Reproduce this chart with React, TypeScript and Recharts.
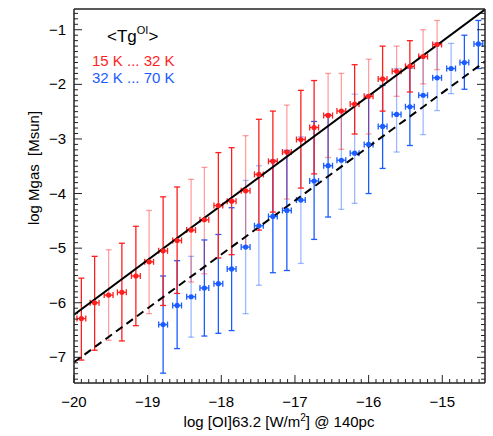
import React from "react";
import {
  ComposedChart,
  Scatter,
  ErrorBar,
  XAxis,
  YAxis,
  ReferenceLine,
} from "recharts";

// red bin: <Tg OI> 15 K ... 32 K
const redX = [
  -19.9, -19.72, -19.53, -19.35, -19.16, -18.98, -18.79, -18.6, -18.41, -18.23,
  -18.04, -17.86, -17.67, -17.49, -17.3, -17.11, -16.92, -16.74, -16.55, -16.37,
  -16.19, -16.0, -15.81, -15.62, -15.44, -15.26, -15.07,
];
const redY = [
  -6.29, -6.0, -5.86, -5.81, -5.51, -5.25, -5.05, -4.86, -4.67, -4.48, -4.22,
  -4.14, -3.95, -3.65, -3.41, -3.24, -3.01, -2.79, -2.57, -2.49, -2.36, -2.22,
  -1.9, -1.76, -1.67, -1.49, -1.27,
];
const redHi = [
  -5.55, -5.15, -5.03, -4.91, -4.6, -4.31, -4.06, -3.88, -3.74, -3.52, -3.25,
  -3.16, -2.94, -2.64, -2.49, -2.38, -2.11, -1.93, -1.8, -1.8, -1.64, -1.54,
  -1.3, -1.3, -1.2, -1.0, -0.83,
];
const redLo = [
  -7.05, -6.87, -6.69, -6.7, -6.42, -6.2, -6.05, -5.83, -5.62, -5.47, -5.18,
  -5.12, -4.96, -4.67, -4.34, -4.1, -3.9, -3.64, -3.34, -3.19, -2.91, -2.91,
  -2.49, -2.22, -2.14, -1.99, -1.73,
];

// blue bin: 32 K ... 70 K
const blueX = [
  -18.79, -18.6, -18.41, -18.23, -18.04, -17.86, -17.67, -17.49, -17.3, -17.11,
  -16.92, -16.74, -16.55, -16.37, -16.19, -16.0, -15.81, -15.62, -15.44, -15.26,
  -15.07, -14.88, -14.7, -14.51,
];
const blueY = [
  -6.4, -6.05, -5.89, -5.73, -5.65, -5.38, -4.98, -4.59, -4.42, -4.31, -4.12,
  -3.77, -3.49, -3.39, -3.26, -3.1, -2.77, -2.55, -2.41, -2.2, -1.88, -1.71,
  -1.6, -1.26,
];
const blueHi = [
  -5.51, -5.23, -5.15, -4.85, -4.75, -4.26, -3.76, -3.49, -3.39, -3.21, -2.96,
  -2.68, -2.55, -2.49, -2.18, -2.2, -2.02, -1.71, -1.7, -1.48, -1.24, -1.25,
  -1.1, -0.83,
];
const blueLo = [
  -7.29, -6.84, -6.63, -6.61, -6.56, -6.51, -6.2, -5.68, -5.45, -5.41, -5.28,
  -4.84, -4.43, -4.29, -4.18, -4.0, -3.54, -3.24, -3.12, -2.92, -2.48, -2.17,
  -2.09, -1.71,
];

// half width of the horizontal bars (bin width)
const xErr = 0.06;

// fits: log M = slope * log F + intercept
const solidFit = { slope: 1.002, intercept: 13.82 };
const dashedFit = { slope: 0.987, intercept: 12.65 };

// which vertical bars are drawn lighter
const redFaint = [2, 5, 8, 9, 12, 15, 18, 19, 21, 23, 25, 26];
const blueFaint = [2, 6, 7, 10, 13, 14, 17, 19, 20, 21];

const X_MIN = -20;
const X_MAX = -14.42;
const Y_MIN = -7.47;
const Y_MAX = -0.62;

const RED = "#ff1e1e";
const RED_FAINT = "rgba(255,30,30,0.42)";
const BLUE = "#1a5cff";
const BLUE_FAINT = "rgba(26,92,255,0.42)";
const FONT = "'Liberation Sans', Arial, sans-serif";

const buildRows = (xs: number[], ys: number[], hi: number[], lo: number[]) =>
  xs.map((x, i) => ({
    x,
    y: ys[i],
    ey: [ys[i] - lo[i], hi[i] - ys[i]],
    ex: xErr,
  }));

const redRows = buildRows(redX, redY, redHi, redLo);
const blueRows = buildRows(blueX, blueY, blueHi, blueLo);

const split = (rows: ReturnType<typeof buildRows>, faint: number[]) => ({
  dark: rows.filter((_, i) => !faint.includes(i)),
  light: rows.filter((_, i) => faint.includes(i)),
});
const redSets = split(redRows, redFaint);
const blueSets = split(blueRows, blueFaint);

const range = (a: number, b: number) => {
  const out: number[] = [];
  for (let k = Math.round(a * 10); k <= Math.round(b * 10); k++) out.push(k / 10);
  return out;
};
const xTicks = range(-20, -14.5);
const yTicks = range(-7.4, -0.7);

const isMajor = (v: number) => Math.abs(v - Math.round(v)) < 1e-6;
const fmt = (v: number) => (v < 0 ? `\u2212${Math.abs(Math.round(v))}` : `${Math.round(v)}`);

const BottomTick = (props: any) => {
  const { x, y, payload } = props;
  const major = isMajor(payload.value);
  return (
    <g>
      <line x1={x} y1={y} x2={x} y2={y - (major ? 8 : 4)} stroke="#222" />
      {major && (
        <text x={x} y={y + 24} textAnchor="middle" fontSize={15} fontFamily={FONT} fill="#000">
          {fmt(payload.value)}
        </text>
      )}
    </g>
  );
};

const TopTick = (props: any) => {
  const { x, y, payload } = props;
  const major = isMajor(payload.value);
  return <line x1={x} y1={y} x2={x} y2={y + (major ? 8 : 4)} stroke="#222" />;
};

const LeftTick = (props: any) => {
  const { x, y, payload } = props;
  const major = isMajor(payload.value);
  return (
    <g>
      <line x1={x} y1={y} x2={x + (major ? 8 : 4)} y2={y} stroke="#222" />
      {major && (
        <text x={x - 8} y={y + 5} textAnchor="end" fontSize={15} fontFamily={FONT} fill="#000">
          {fmt(payload.value)}
        </text>
      )}
    </g>
  );
};

const RightTick = (props: any) => {
  const { x, y, payload } = props;
  const major = isMajor(payload.value);
  return <line x1={x} y1={y} x2={x - (major ? 8 : 4)} y2={y} stroke="#222" />;
};

const dot = (color: string) => (p: any) => <circle cx={p.cx} cy={p.cy} r={2.6} fill={color} />;

const fitSegment = (f: { slope: number; intercept: number }) => [
  { x: X_MIN, y: f.slope * X_MIN + f.intercept },
  { x: X_MAX, y: f.slope * X_MAX + f.intercept },
];

const axisLine = { stroke: "#222", strokeWidth: 1.5 };

export default function App() {
  const series = [
    { rows: blueSets.dark, color: BLUE, bar: BLUE, key: "bd" },
    { rows: blueSets.light, color: BLUE, bar: BLUE_FAINT, key: "bl" },
    { rows: redSets.dark, color: RED, bar: RED, key: "rd" },
    { rows: redSets.light, color: RED, bar: RED_FAINT, key: "rl" },
  ];

  return (
    <div style={{ position: "relative", width: 493, height: 436, fontFamily: FONT }}>
      <style>{"body{margin:0}"}</style>
      <ComposedChart width={493} height={436} margin={{ top: 0, right: 0, bottom: 0, left: 0 }}>
        <XAxis
          xAxisId={0}
          type="number"
          dataKey="x"
          domain={[X_MIN, X_MAX]}
          allowDataOverflow
          ticks={xTicks}
          interval={0}
          height={53}
          tickSize={0}
          tickMargin={0}
          axisLine={axisLine}
          tick={<BottomTick />}
        />
        <XAxis
          xAxisId="top"
          orientation="top"
          type="number"
          domain={[X_MIN, X_MAX]}
          allowDataOverflow
          ticks={xTicks}
          interval={0}
          height={9}
          tickSize={0}
          tickMargin={0}
          axisLine={axisLine}
          tick={<TopTick />}
        />
        <YAxis
          yAxisId={0}
          type="number"
          dataKey="y"
          domain={[Y_MIN, Y_MAX]}
          allowDataOverflow
          ticks={yTicks}
          interval={0}
          width={74}
          tickSize={0}
          tickMargin={0}
          axisLine={axisLine}
          tick={<LeftTick />}
        />
        <YAxis
          yAxisId="right"
          orientation="right"
          type="number"
          domain={[Y_MIN, Y_MAX]}
          allowDataOverflow
          ticks={yTicks}
          interval={0}
          width={8}
          tickSize={0}
          tickMargin={0}
          axisLine={axisLine}
          tick={<RightTick />}
        />
        {series.map((s) => (
          <Scatter
            key={s.key}
            data={s.rows}
            dataKey="y"
            fill={s.color}
            shape={dot(s.color)}
            isAnimationActive={false}
          >
            <ErrorBar dataKey="ey" direction="y" width={3} stroke={s.bar} strokeWidth={1.3} />
            <ErrorBar dataKey="ex" direction="x" width={3} stroke={s.color} strokeWidth={1.3} />
          </Scatter>
        ))}
        <ReferenceLine segment={fitSegment(solidFit)} stroke="#000" strokeWidth={2} ifOverflow="hidden" />
        <ReferenceLine
          segment={fitSegment(dashedFit)}
          stroke="#000"
          strokeWidth={2}
          strokeDasharray="8 5"
          ifOverflow="hidden"
        />
      </ComposedChart>

      {/* legend */}
      <div style={{ position: "absolute", left: 107, top: 27, fontSize: 17, lineHeight: "20px", whiteSpace: "nowrap" }}>
        &lt;Tg<sup style={{ fontSize: 11, verticalAlign: 0, position: "relative", top: -8 }}>OI</sup>&gt;
      </div>
      <div style={{ position: "absolute", left: 92, top: 52, fontSize: 15, lineHeight: "18px", color: RED, whiteSpace: "nowrap" }}>
        15 K ... 32 K
      </div>
      <div style={{ position: "absolute", left: 92, top: 69, fontSize: 15, lineHeight: "18px", color: BLUE, whiteSpace: "nowrap" }}>
        32 K ... 70 K
      </div>

      {/* axis titles */}
      <div
        style={{
          position: "absolute",
          left: 279,
          top: 421,
          transform: "translate(-50%, -50%)",
          fontSize: 15,
          whiteSpace: "nowrap",
        }}
      >
        log [OI]63.2 [W/m<sup style={{ fontSize: 10, verticalAlign: 0, position: "relative", top: -6 }}>2</sup>] @ 140pc
      </div>
      <div
        style={{
          position: "absolute",
          left: 33,
          top: 168,
          transform: "translate(-50%, -50%) rotate(-90deg)",
          fontSize: 15,
          whiteSpace: "pre",
        }}
      >
        {"log Mgas  [Msun]"}
      </div>
    </div>
  );
}
